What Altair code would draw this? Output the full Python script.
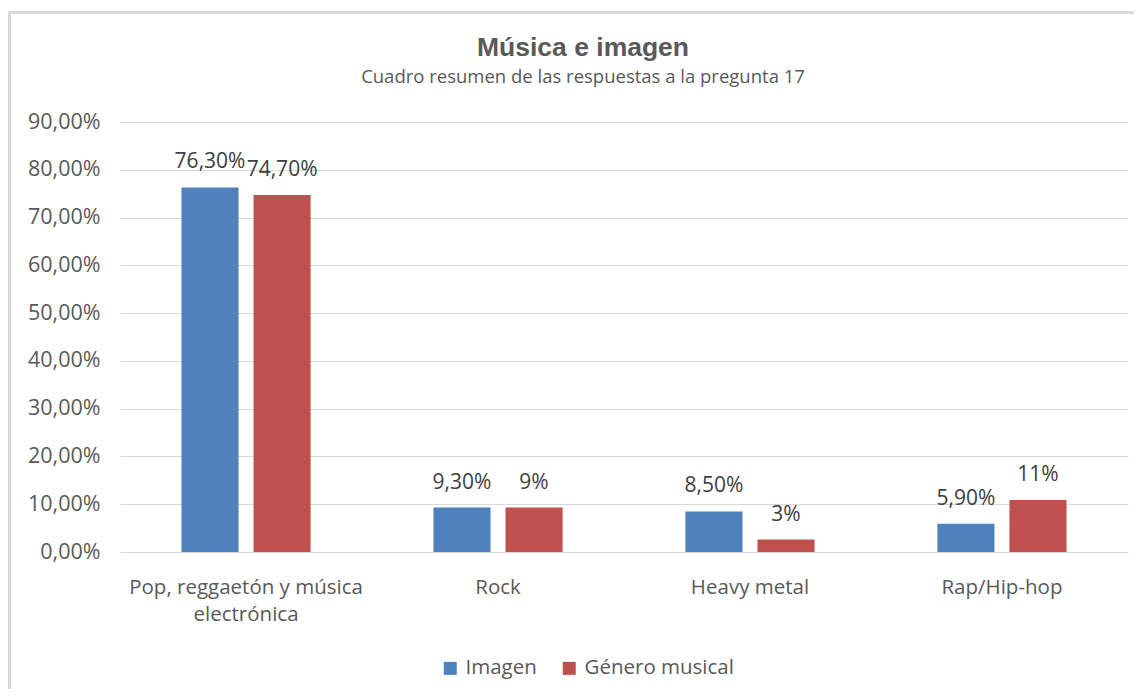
import altair as alt
import pandas as pd

categories = ["Pop, reggaetón y música electrónica", "Rock", "Heavy metal", "Rap/Hip-hop"]
series = ["Imagen", "Género musical"]
imagen_values = [76.3, 9.3, 8.5, 5.9]
genero_values = [74.7, 9.3, 2.6, 10.9]
imagen_labels = ["76,30%", "9,30%", "8,50%", "5,90%"]
genero_labels = ["74,70%", "9%", "3%", "11%"]
y_ticks = [0, 10, 20, 30, 40, 50, 60, 70, 80, 90]
colors = ["#4F81BD", "#C0504D"]

rows = []
for c, v, l in zip(categories, imagen_values, imagen_labels):
    rows.append({"cat": c, "serie": series[0], "valor": v, "etiqueta": l})
for c, v, l in zip(categories, genero_values, genero_labels):
    rows.append({"cat": c, "serie": series[1], "valor": v, "etiqueta": l})
df = pd.DataFrame(rows)

FONT = "Open Sans"
GRAY = "#595959"

x_enc = alt.X(
    "cat:N",
    sort=categories,
    title=None,
    scale=alt.Scale(paddingInner=0.4875, paddingOuter=0.244),
    axis=alt.Axis(
        labelAngle=0,
        domain=False,
        ticks=False,
        labelPadding=25,
        labelFont=FONT,
        labelFontSize=20.5,
        labelColor=GRAY,
        labelLineHeight=27,
        labelLimit=400,
        labelExpr="datum.label == 'Pop, reggaetón y música electrónica' ? ['Pop, reggaetón y música', 'electrónica'] : datum.label",
    ),
)
xoff_enc = alt.XOffset("serie:N", sort=series, scale=alt.Scale(paddingInner=0.208, paddingOuter=0))
y_enc = alt.Y(
    "valor:Q",
    title=None,
    scale=alt.Scale(domain=[0, 90], nice=False),
    axis=alt.Axis(
        values=y_ticks,
        domain=False,
        ticks=False,
        labelPadding=20,
        labelFont=FONT,
        labelFontSize=21.5,
        labelColor=GRAY,
        gridColor="#d9d9d9",
        gridWidth=1.2,
        labelExpr="replace(format(datum.value, '.2f'), '.', ',') + '%'",
    ),
)

bars = alt.Chart(df).mark_bar().encode(
    x=x_enc,
    xOffset=xoff_enc,
    y=y_enc,
    color=alt.Color(
        "serie:N",
        sort=series,
        scale=alt.Scale(domain=series, range=colors),
        legend=alt.Legend(
            title=None,
            orient="none",
            legendX=320,
            legendY=536,
            direction="horizontal",
            symbolType="square",
            symbolSize=169,
            symbolStrokeWidth=0,
            labelFont=FONT,
            labelFontSize=20.5,
            labelColor=GRAY,
            labelOffset=5,
            columnPadding=22,
        ),
    ),
)

labels = alt.Chart(df).mark_text(
    baseline="middle", dy=-25, font=FONT, fontSize=21, color="#404040"
).encode(
    x=alt.X("cat:N", sort=categories),
    xOffset=alt.XOffset("serie:N", sort=series),
    y="valor:Q",
    text="etiqueta:N",
)

frame_left = alt.Chart(df).mark_rule(color="#d9d9d9", strokeWidth=2.5).encode(
    x=alt.value(-110.5), y=alt.value(-110.75), y2=alt.value(700)
)
frame_top = alt.Chart(df).mark_rule(color="#d9d9d9", strokeWidth=2.5).encode(
    x=alt.value(-111.75), x2=alt.value(1100), y=alt.value(-109.5)
)

chart = alt.layer(frame_left, frame_top, bars, labels).properties(
    width=1008,
    height=430,
    autosize=alt.AutoSizeParams(type="none"),
    padding={"left": 112, "top": 114, "right": 6, "bottom": 137},
    title=alt.TitleParams(
        text="Música e imagen",
        subtitle="Cuadro resumen de las respuestas a la pregunta 17",
        anchor="middle",
        frame="group",
        dx=-41,
        offset=-76,
        font="Liberation Sans",
        fontSize=26.5,
        fontWeight="bold",
        color=GRAY,
        subtitleFont=FONT,
        subtitleFontSize=18.5,
        subtitleColor=GRAY,
        subtitlePadding=6,
    ),
).configure(background="white").configure_view(strokeWidth=0)

chart.save("out.html", embed_options={"renderer": "svg", "actions": False})
